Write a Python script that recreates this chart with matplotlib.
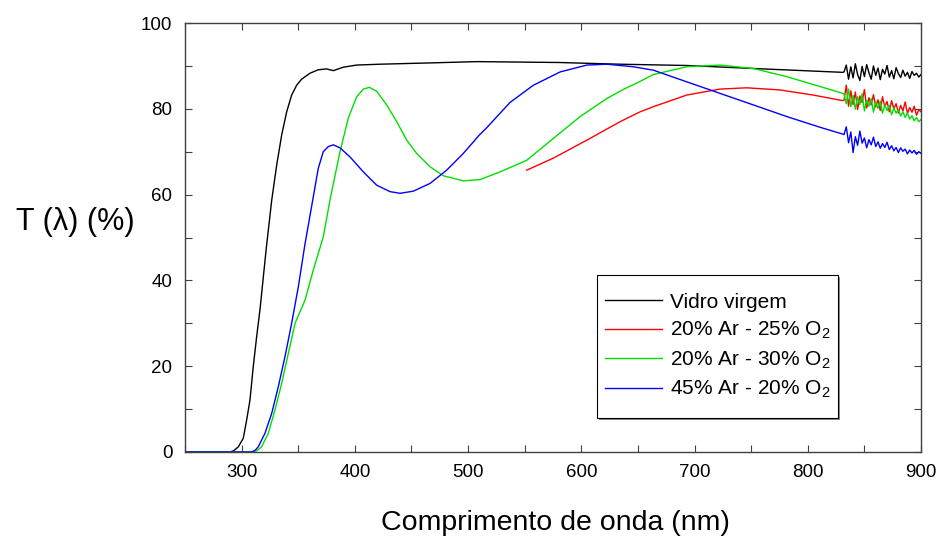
import numpy as np
import matplotlib
matplotlib.use("Agg")
import matplotlib.pyplot as plt
from matplotlib.ticker import MultipleLocator
from matplotlib.patches import Rectangle
from matplotlib.transforms import offset_copy

plt.rcParams['font.family'] = ['Liberation Sans', 'DejaVu Sans']
plt.rcParams['mathtext.default'] = 'regular'

# smooth parts of the spectra (nm, %T)
wl_black = [250, 289.7, 293, 297.1, 301.5, 304.5, 307.4, 310.3, 313.3, 316.2, 318.3, 322, 326.6,
            331, 335.4, 339.8, 344.2, 348.6, 353, 360.4, 367.7, 375.1, 381, 389.8, 401.6, 422.2,
            466.4, 507.6, 580, 634, 693, 752, 796, 831]
t_black = [0, 0, 0.3, 1.2, 3.2, 7.5, 12.1, 19.9, 26.9, 33.1, 38.5, 48, 58.7,
           66.9, 73.9, 79.3, 83.2, 85.5, 86.9, 88.3, 89.1, 89.3, 88.9, 89.7, 90.2, 90.4,
           90.7, 91.0, 90.8, 90.4, 90.1, 89.4, 88.9, 88.5]

wl_red = [551.8, 575.3, 604.9, 634.3, 651.9, 663.7, 693, 722.5, 746, 775.5, 804.9, 831]
t_red = [65.7, 68.5, 72.7, 77, 79.3, 80.5, 83.2, 84.6, 84.9, 84.4, 83.2, 81.9]

wl_green = [250, 310, 314, 317.7, 323.6, 329.5, 335.4, 341.3, 347.2, 356, 363.3, 372.2, 378,
            386.9, 394.2, 401.6, 407.5, 412.8, 419.3, 428.1, 437, 445.8, 454.6, 466.4, 478.1,
            495.8, 510.5, 528.3, 551.8, 575.3, 599, 622.5, 637, 651.9, 663.7, 693, 722.5, 752,
            781.4, 810.8, 831]
t_green = [0, 0, 0.4, 1.2, 4.4, 9.8, 16, 23, 30, 35.4, 42.4, 50.2, 58.7,
           70, 77.8, 82.8, 84.6, 85, 84.1, 80.9, 77, 72.7, 69.6, 66.5, 64.4,
           63.2, 63.5, 65.3, 68, 73.1, 78.2, 82.4, 84.5, 86.4, 88.0, 89.8, 90.2, 89.4,
           87.5, 85.2, 83.6]

wl_blue = [250, 308.9, 312, 314.7, 320.7, 326.6, 332.4, 338.3, 344.2, 350.1, 356, 362.8, 367.7,
           372.1, 376.6, 381, 386.9, 395.7, 407.5, 419.3, 431, 439.9, 451.6, 466.4, 481.1, 495.8,
           510, 516.5, 537.1, 557.7, 581.3, 604.9, 622.5, 646, 663.7, 693, 722.5, 752, 781.4,
           810.8, 831]
t_blue = [0, 0, 0.4, 1.2, 4.4, 9, 15.2, 22.2, 30, 38.5, 48.5, 58.7, 66.1,
          70, 71.2, 71.6, 70.9, 68.8, 65.3, 62.2, 60.7, 60.3, 60.8, 62.6, 65.7, 69.6,
          73.9, 75.6, 81.5, 85.5, 88.6, 90.2, 90.4, 89.8, 89, 86.3, 83.6, 80.9, 78.2,
          75.7, 74.1]

# noisy tail after the detector change (832..900 nm every 2 nm)
wl_tail = list(range(832, 901, 2))
tail_black = [88.6, 90.2, 86.9, 89.8, 87.2, 90.5, 88.0, 86.6, 89.9, 87.5, 90.3, 88.4, 86.9, 90.0, 87.8,
              89.5, 86.8, 89.2, 88.1, 90.1, 87.4, 88.9, 87.0, 89.6, 88.2, 87.3, 89.0, 87.6, 88.5, 87.1,
              88.7, 87.8, 88.3, 87.4, 88.0]
tail_red = [82.0, 85.5, 80.6, 84.2, 81.0, 83.9, 79.8, 83.0, 81.5, 84.5, 80.2, 82.6, 80.9, 83.3, 80.4,
            82.1, 79.6, 82.8, 80.5, 81.7, 79.3, 81.9, 80.0, 81.2, 79.0, 80.8, 79.5, 81.6, 78.9, 80.3,
            79.2, 80.6, 78.5, 79.8, 79.3]
tail_green = [83.4, 81.2, 84.6, 80.5, 83.1, 79.9, 82.8, 81.0, 83.5, 79.5, 82.0, 80.6, 82.4, 79.2, 81.6,
              80.1, 81.8, 79.0, 80.9, 79.6, 80.8, 78.6, 80.2, 79.0, 79.8, 78.3, 79.3, 78.0, 79.0, 77.6,
              78.4, 77.2, 78.0, 77.0, 77.5]
tail_blue = [74.0, 75.8, 72.1, 74.6, 69.8, 73.5, 71.5, 74.8, 72.0, 73.2, 70.9, 72.8, 71.6, 73.4, 71.2,
             72.3, 70.8, 71.9, 71.0, 72.2, 70.5, 71.4, 70.2, 71.0, 69.8, 70.9, 70.1, 70.6, 69.5, 70.4,
             69.7, 70.3, 69.4, 70.0, 69.6]

labels = ['Vidro virgem', '20% Ar - 25% O$_2$', '20% Ar - 30% O$_2$', '45% Ar - 20% O$_2$']
colors = ['black', '#ff0000', '#00e000', '#0000ff']

series = [(wl_black, t_black, tail_black), (wl_red, t_red, tail_red),
          (wl_green, t_green, tail_green), (wl_blue, t_blue, tail_blue)]

fig = plt.figure(figsize=(9.38, 5.43), dpi=100)
ax = fig.add_axes([0.1972, 0.1676, 0.7847, 0.79])

for (wl, t, tail), lab, c in zip(series, labels, colors):
    ax.plot(wl + wl_tail, t + tail, color=c, lw=1.0, label=lab)

ax.set_xlim(250, 900)
ax.set_ylim(0, 100)
ax.xaxis.set_major_locator(MultipleLocator(100))
ax.xaxis.set_minor_locator(MultipleLocator(50))
ax.yaxis.set_major_locator(MultipleLocator(20))
ax.yaxis.set_minor_locator(MultipleLocator(10))
ax.tick_params(which='both', direction='in', top=True, right=True, length=5, width=0.8,
               color='#404040')
ax.tick_params(axis='both', which='major', labelsize=13.5, pad=9)
for s in ax.spines.values():
    s.set_color('#404040')
    s.set_linewidth(1.0)

ax.set_xlabel('Comprimento de onda (nm)', fontsize=20.5)
ax.xaxis.set_label_coords(0.503, -0.165)
ax.xaxis.label.set_va('center')
ax.set_ylabel('T (λ) (%)', fontsize=22, rotation=0)
ax.yaxis.set_label_coords(-0.149, 0.536)
ax.yaxis.label.set_va('center')
ax.yaxis.label.set_ha('center')

# legend box with a small grey drop shadow
box = (0.5598, 0.0793, 0.3274, 0.3333)
shadow_tr = offset_copy(ax.transAxes, fig=fig, x=2, y=-2, units='dots')
ax.add_patch(Rectangle(box[:2], box[2], box[3], transform=shadow_tr, facecolor='#888888',
                       edgecolor='none', zorder=4))
ax.add_patch(Rectangle(box[:2], box[2], box[3], transform=ax.transAxes, facecolor='white',
                       edgecolor='black', lw=0.8, zorder=5))
leg = ax.legend(loc='center', bbox_to_anchor=box, fontsize=15, frameon=False,
                handlelength=2.74, handletextpad=0.38, labelspacing=0.4, borderpad=0)
leg.set_zorder(6)

fig.savefig('out.png', dpi=100)
